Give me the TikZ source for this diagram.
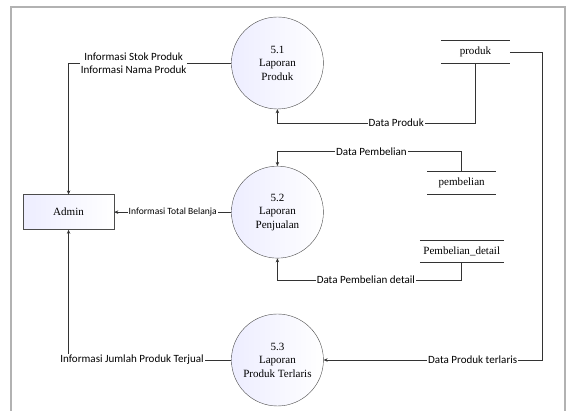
\documentclass[tikz,border=0pt]{standalone}
\usepackage{fontspec}
\setmainfont{Liberation Serif}
\newfontfamily\lblfont{Carlito}
\usepackage{tikz}
\usetikzlibrary{arrows.meta,positioning,calc}

\begin{document}
\begin{tikzpicture}[x=1cm,y=1cm,>={Stealth[length=4pt,width=3.5pt]},
    proses/.style={circle,draw=gray!60!black,minimum size=3.22cm,inner sep=0pt,align=center,font=\fontsize{11}{13.5}\selectfont,left color=blue!7,right color=white},
    entitas/.style={draw=gray!60!black,minimum width=3.185cm,minimum height=1.225cm,font=\fontsize{11}{13.5}\selectfont,left color=blue!7,right color=white},
    simpan/.style={minimum width=2.4cm,minimum height=0.77cm,font=\fontsize{11}{13.5}\selectfont},
    alir/.style={draw=gray!40!black,line width=0.6pt},
    ket/.style={fill=white,inner sep=1pt,align=center,font=\lblfont\fontsize{11}{13.5}\selectfont}]
    \useasboundingbox (0,0) rectangle (19.845,14.385);
    \draw[gray!60,line width=1.5pt] (0.385,-0.2) |- (19.775,14.14) -- (19.775,-0.2);
    \node[proses] (c51) at (9.71,12.18) {5.1\\Laporan\\Produk};
    \node[proses] (c52) at (9.71,6.96) {5.2\\Laporan\\Penjualan};
    \node[proses] (c53) at (9.71,1.785) {5.3\\Laporan\\Produk Terlaris};
    \node[entitas] (admin) at (2.40,6.96) {Admin};
    \node[simpan] (produk) at (16.64,12.565) {produk};
    \node[simpan] (pembelian) at (16.16,7.98) {pembelian};
    \node[simpan] (detail) at (16.16,5.58) {Pembelian\_detail};
    \foreach \s in {produk,pembelian,detail}
      \draw[alir] (\s.north west) -- (\s.north east) (\s.south west) -- (\s.south east);
    \draw[alir,->] (c51.west) -| node[ket,pos=0.3] {Informasi Stok Produk\\Informasi Nama Produk} (admin.north);
    \draw[alir,->] (produk.south) -- ++(0,-2.1) -| node[ket,pos=0.2] {Data Produk} (c51.south);
    \draw[alir,->] (produk.east) -- ++(1.15,0) |- node[ket,pos=0.66] {Data Produk terlaris} (c53.east);
    \draw[alir,->] (pembelian.north) -- ++(0,0.7) -| node[ket,pos=0.245] {Data Pembelian} (c52.north);
    \draw[alir,->] (detail.south) -- ++(0,-0.6) -| node[ket,pos=0.26] {Data Pembelian detail} (c52.south);
    \draw[alir,->] (c52.west) -- node[ket,font=\lblfont\fontsize{9.5}{11}\selectfont] {Informasi Total Belanja} (admin.east);
    \draw[alir,->] (c53.west) -| node[ket,pos=0.305] {Informasi Jumlah Produk Terjual} (admin.south);
  \end{tikzpicture}
\end{document}
